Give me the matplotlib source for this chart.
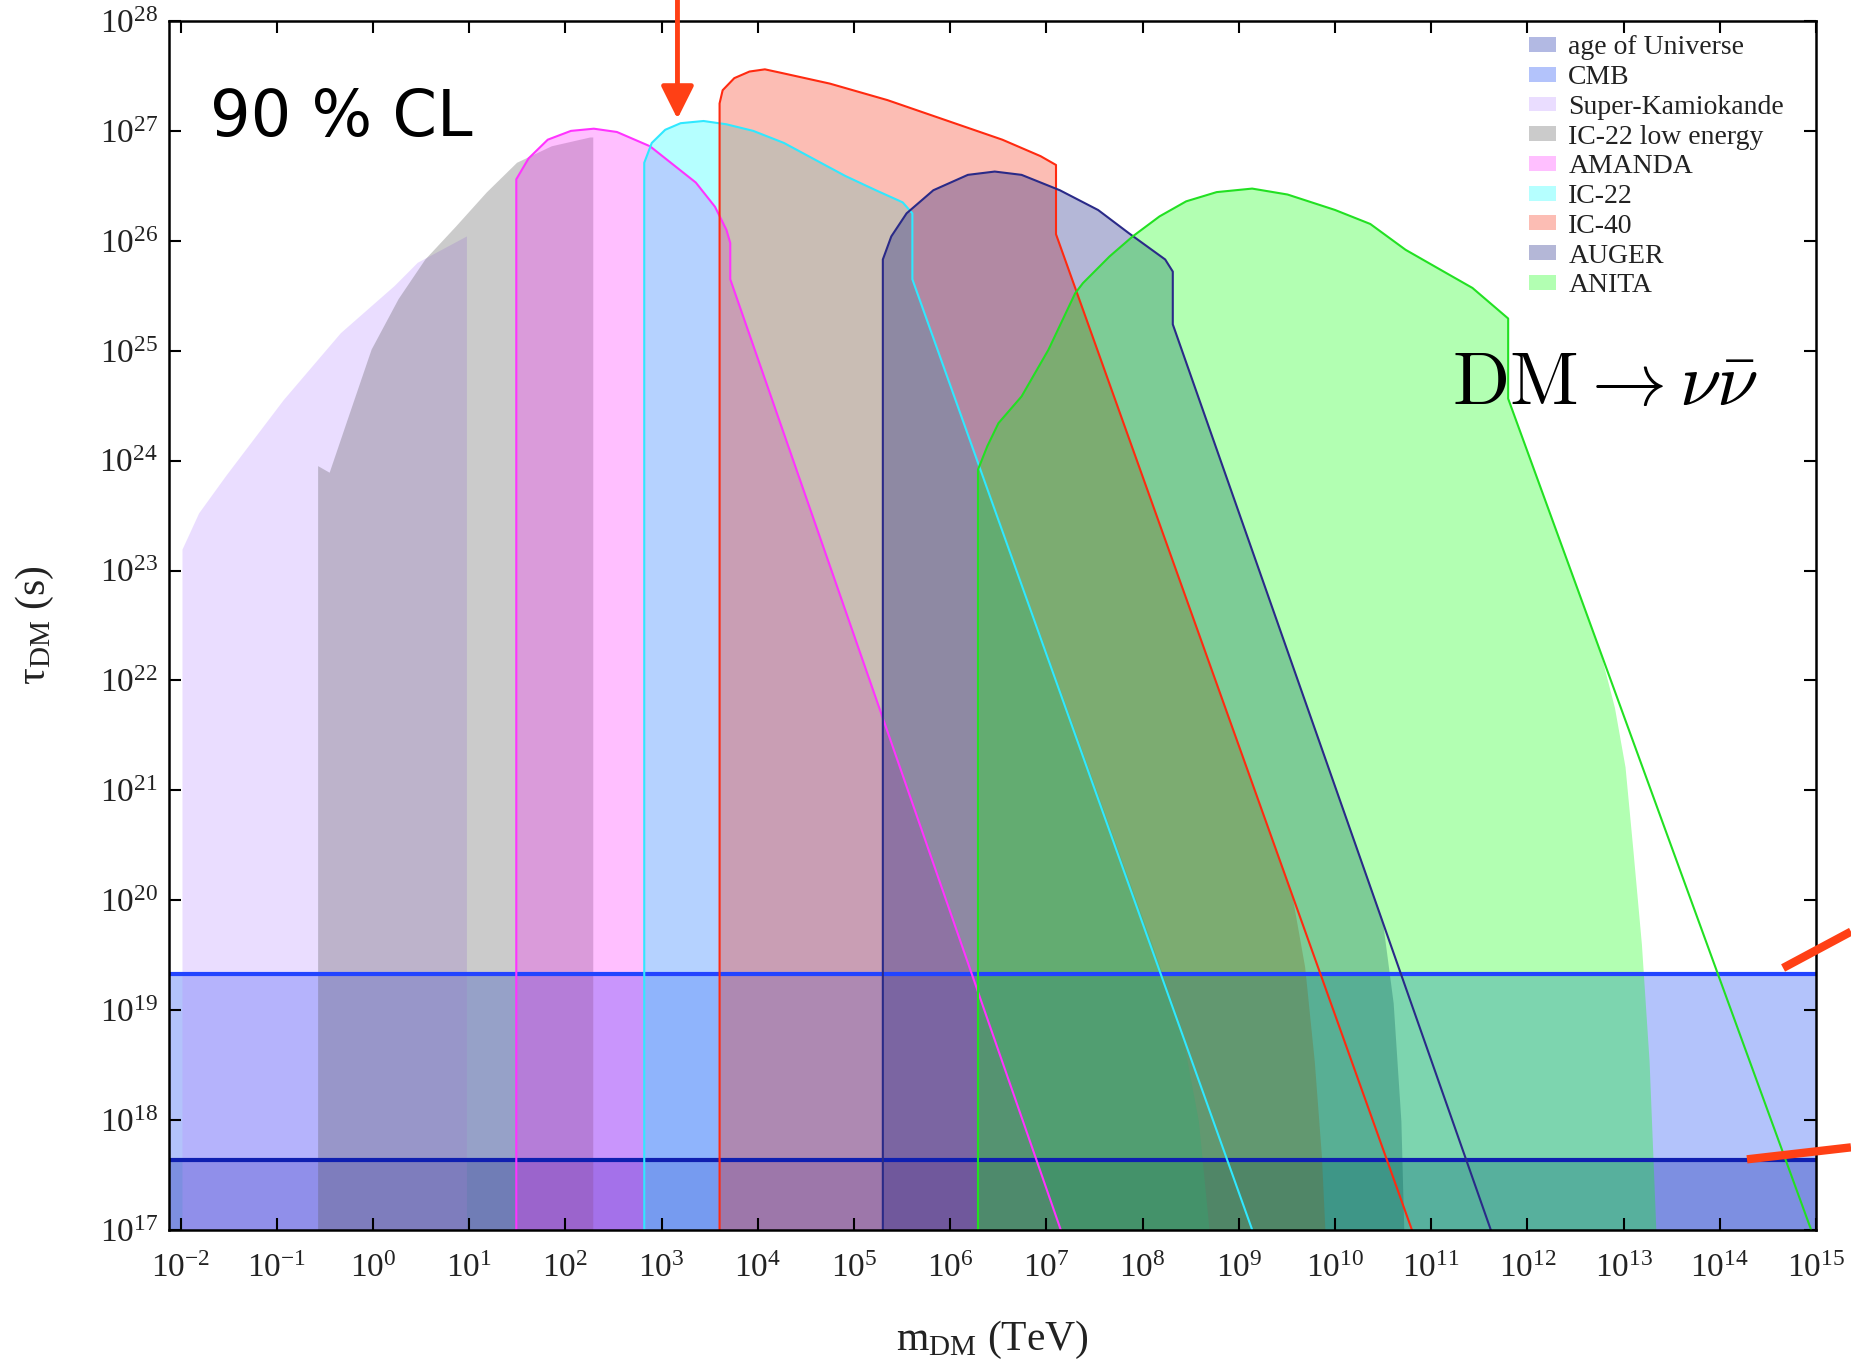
"""Dark matter lifetime bounds for DM -> nu nubar, rebuilt with matplotlib."""

import numpy as np
import matplotlib
matplotlib.use("Agg")
import matplotlib.pyplot as plt
from matplotlib.patches import Patch
from matplotlib.lines import Line2D

# All values are log10 (mass in TeV, lifetime in s)
tau_floor = 17.0
age_universe = 17.64
cmb_bound = 19.33

superk_logm = [-1.98, -1.98, -1.807, -1.526, -0.928, -0.333, 0.227, 0.466, 0.977, 0.977]
superk_logt = [17.0, 23.19, 23.52, 23.86, 24.55, 25.16, 25.59, 25.80, 26.04, 17.0]

ic22le_logm = [-0.57, -0.57, -0.45, -0.252, -0.014, 0.267, 0.545, 0.864, 1.183, 1.498, 1.859, 2.259, 2.29, 2.29]
ic22le_logt = [17.0, 23.95, 23.89, 24.40, 25.01, 25.47, 25.83, 26.13, 26.44, 26.71, 26.86, 26.94, 26.94, 17.0]

amanda_logm = [1.49, 1.49, 1.618, 1.817, 2.058, 2.296, 2.536, 2.88, 3.356, 3.555, 3.674, 3.714, 3.714, 7.15]
amanda_logt = [17.0, 26.56, 26.75, 26.92, 27.0, 27.02, 26.99, 26.86, 26.53, 26.31, 26.10, 25.98, 25.65, 17.0]

ic22_logm = [2.82, 2.82, 2.898, 3.038, 3.198, 3.436, 3.674, 3.953, 4.273, 4.591, 4.91, 5.227, 5.506, 5.607, 5.607, 9.14]
ic22_logt = [17.0, 26.71, 26.89, 27.01, 27.07, 27.09, 27.06, 27.0, 26.89, 26.74, 26.59, 26.46, 26.35, 26.25, 25.65, 17.0]
ic22_tail_logm = [8.097, 8.40, 8.585, 8.696]
ic22_tail_logt = [19.61, 18.85, 17.99, 17.0]

ic40_logm = [3.603, 3.603, 3.635, 3.756, 3.914, 4.074, 4.233, 4.75, 5.348, 5.945, 6.542, 6.94, 7.10, 7.10, 10.80]
ic40_logt = [17.0, 27.25, 27.37, 27.48, 27.54, 27.56, 27.53, 27.43, 27.28, 27.10, 26.92, 26.77, 26.69, 26.06, 17.0]
ic40_tail_logm = [9.56, 9.69, 9.79, 9.864, 9.90]
ic40_tail_logt = [20.03, 19.39, 18.53, 17.67, 17.0]

auger_logm = [5.30, 5.30, 5.388, 5.547, 5.825, 6.184, 6.463, 6.742, 7.14, 7.538, 7.856, 8.235, 8.314, 8.314, 11.62]
auger_logt = [17.0, 25.83, 26.04, 26.25, 26.46, 26.60, 26.63, 26.60, 26.46, 26.28, 26.07, 25.83, 25.72, 25.24, 17.0]
auger_tail_logm = [10.497, 10.61, 10.69, 10.72]
auger_tail_logt = [19.815, 19.06, 17.99, 17.0]

anita_logm = [6.289, 6.289, 6.387, 6.502, 6.742, 7.021, 7.30, 7.38, 7.657, 7.897, 8.176, 8.453, 8.77,
              9.139, 9.507, 9.999, 10.367, 10.734, 11.15, 11.429, 11.80, 11.80, 14.95]
anita_logt = [17.0, 23.918, 24.133, 24.341, 24.584, 25.008, 25.524, 25.615, 25.858, 26.04, 26.222, 26.359, 26.443,
              26.475, 26.421, 26.281, 26.153, 25.918, 25.71, 25.571, 25.293, 24.564, 17.0]
anita_tail_logm = [12.757, 12.91, 13.02, 13.10, 13.19, 13.27, 13.34]
anita_tail_logt = [22.27, 21.75, 21.21, 20.47, 19.60, 18.53, 17.0]

labels = ["age of Universe", "CMB", "Super-Kamiokande", "IC-22 low energy", "AMANDA",
          "IC-22", "IC-40", "AUGER", "ANITA"]
colors = ["#0317a5", "#053af5", "#bc91ff", "#555555", "#ff2cff",
          "#0cffff", "#f82608", "#08127d", "#00ff00"]
edges = [None, None, None, None, "#ff33ff", "#30e8ff", "#ff2a10", "#2a2a88", "#22e022"]
ALPHA = 0.3

plt.rcParams["font.family"] = "Liberation Serif"
plt.rcParams["mathtext.fontset"] = "custom"
plt.rcParams["mathtext.rm"] = "Liberation Serif"
plt.rcParams["mathtext.it"] = "Liberation Serif:italic"
plt.rcParams["mathtext.bf"] = "Liberation Serif:bold"
plt.rcParams["axes.unicode_minus"] = False


def p10(vals):
    return np.power(10.0, np.asarray(vals, dtype=float))


fig = plt.figure(figsize=(18.51, 13.62), dpi=100)
ax = fig.add_axes([0.0913, 0.0969, 0.8898, 0.8877])

# horizontal bands: CMB and age of the Universe
ax.axhspan(p10(tau_floor), p10(cmb_bound), color=colors[1], alpha=ALPHA, lw=0)
ax.axhspan(p10(tau_floor), p10(age_universe), color=colors[0], alpha=ALPHA, lw=0)
ax.axhline(p10(cmb_bound), color="#2244ff", lw=3)
ax.axhline(p10(age_universe), color="#0f1fb0", lw=3)

# regions without an outline
ax.fill(p10(superk_logm), p10(superk_logt), color=colors[2], alpha=ALPHA, lw=0)
ax.fill(p10(ic22le_logm), p10(ic22le_logt), color=colors[3], alpha=ALPHA, lw=0)

# regions with an outline; some fills end in a rounded tail before the line does
experiments = [
    (amanda_logm, amanda_logt, [], [], 4),
    (ic22_logm, ic22_logt, ic22_tail_logm, ic22_tail_logt, 5),
    (ic40_logm, ic40_logt, ic40_tail_logm, ic40_tail_logt, 6),
    (auger_logm, auger_logt, auger_tail_logm, auger_tail_logt, 7),
    (anita_logm, anita_logt, anita_tail_logm, anita_tail_logt, 8),
]
for lm, lt, tm, tt, k in experiments:
    if tm:
        fm = lm[:-1] + tm
        ft = lt[:-1] + tt
    else:
        fm, ft = lm, lt
    ax.fill(p10(fm), p10(ft), color=colors[k], alpha=ALPHA, lw=0)
    ax.plot(p10(lm), p10(lt), color=edges[k], lw=1.5, solid_joinstyle="round")

ax.set_xscale("log")
ax.set_yscale("log")
ax.set_xlim(p10(-2.12), p10(15.0))
ax.set_ylim(p10(17), p10(28))
ax.set_xticks(p10(np.arange(-2, 16)))
ax.set_yticks(p10(np.arange(17, 29)))
ax.minorticks_off()
ax.tick_params(which="major", direction="in", length=8.6, width=1.5, top=True, right=True,
               labelsize=24, labelcolor="#222222")
ax.tick_params(axis="x", pad=17)
ax.tick_params(axis="y", pad=8)
for s in ax.spines.values():
    s.set_linewidth(1.8)

fig.text(0.536, 0.0162, r"m$_{\rm DM}$ (TeV)", fontsize=30, ha="center", va="center", color="#222222")
fig.text(0.0191, 0.5406, r"τ$_{\rm DM}$ (s)", fontsize=30, ha="center", va="center",
         rotation=90, color="#222222")

handles = [Patch(facecolor=c, alpha=ALPHA, edgecolor="none", lw=0) for c in colors]
ax.legend(handles, labels, loc="upper left", bbox_to_anchor=(0.826, 0.988), frameon=False,
          fontsize=20, labelspacing=0.17, handlelength=0.95, handleheight=0.45,
          handletextpad=0.45, borderpad=0, borderaxespad=0, labelcolor="#222222")

# slide annotations
fig.text(0.1135, 0.900, "90 % CL", fontsize=46, family="DejaVu Sans", va="baseline")
fig.text(0.7845, 0.7026, r"$\mathrm{DM} \rightarrow \nu\bar{\nu}$", fontsize=54,
         math_fontfamily="cm", va="baseline")

red = "#ff4015"
ax.annotate("", xy=(0.366, 0.9107), xycoords="figure fraction",
            xytext=(0.366, 1.01), textcoords="figure fraction",
            arrowprops=dict(arrowstyle="-|>,head_length=1.0,head_width=0.5",
                            mutation_scale=20, color=red, lw=3.5),
            annotation_clip=False)
fig.add_artist(Line2D([0.9633, 1.0], [0.2893, 0.3160], transform=fig.transFigure,
                      color=red, lw=6, solid_capstyle="butt"))
fig.add_artist(Line2D([0.9438, 1.0], [0.1488, 0.1576], transform=fig.transFigure,
                      color=red, lw=6, solid_capstyle="butt"))

fig.savefig("out.png", dpi=100)
